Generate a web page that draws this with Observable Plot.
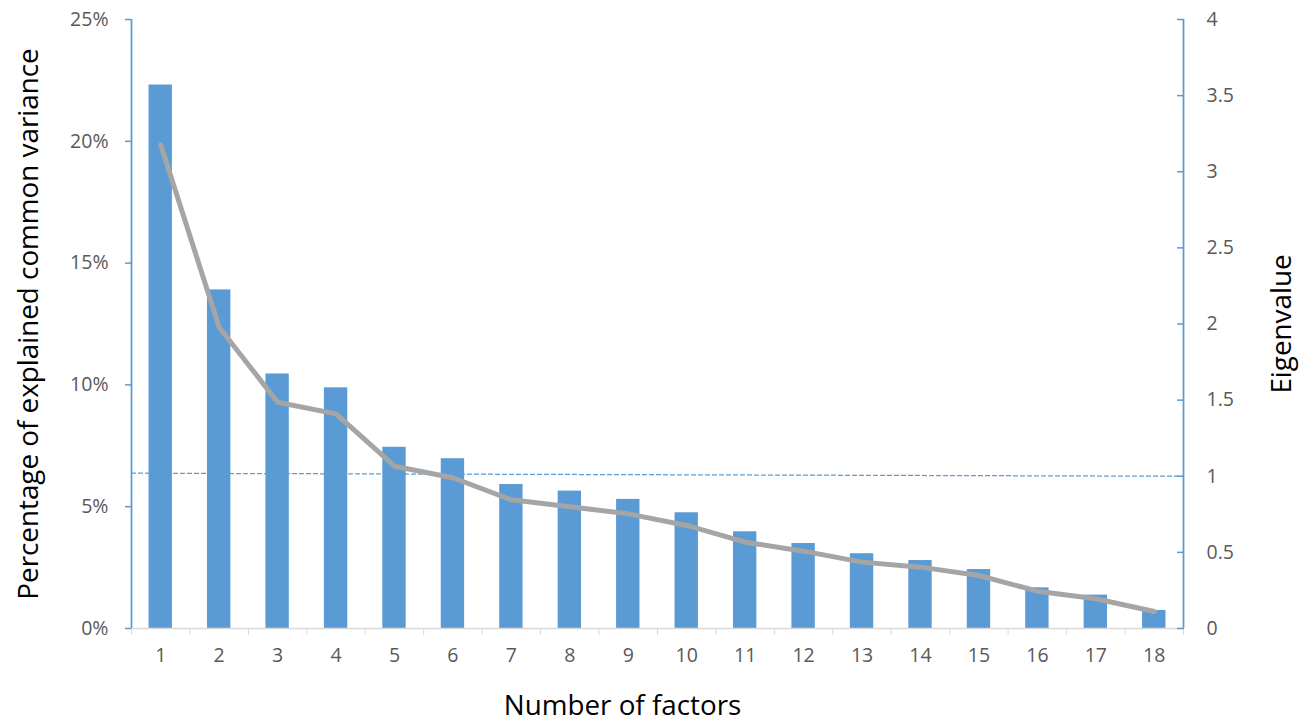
<!DOCTYPE html>
<html>
<head>
<meta charset="utf-8">
<script src="https://cdn.jsdelivr.net/npm/d3@7"></script>
<script src="https://cdn.jsdelivr.net/npm/@observablehq/plot@0.6"></script>
<style>
  html, body { margin: 0; padding: 0; background: #fff; }
  #chart { width: 1307px; height: 724px; }
</style>
</head>
<body>
<div id="chart"></div>
<script>
// ---- data ----
const factors = [1,2,3,4,5,6,7,8,9,10,11,12,13,14,15,16,17,18];
const variancePct = [22.31,13.90,10.45,9.88,7.44,6.97,5.91,5.64,5.30,4.75,3.97,3.49,3.07,2.79,2.42,1.67,1.37,0.74];
const eigenvalues = [3.177,1.979,1.486,1.41,1.066,0.99,0.845,0.80,0.753,0.677,0.567,0.508,0.436,0.403,0.348,0.245,0.195,0.112];
const pctTicks = [0,5,10,15,20,25];
const eigTicks = [0,0.5,1,1.5,2,2.5,3,3.5,4];
const thresholdF = [0.5, 18.5];
const thresholdE = [1.02, 1.0];
const xTitle = "Number of factors";
const yTitleLeft = "Percentage of explained common variance";
const yTitleRight = "Eigenvalue";

// eigenvalue axis (0–4) shares the frame with the percentage axis (0–25)
const eigToPct = 25 / 4;

const bars = factors.map((f, i) => ({f, pct: variancePct[i]}));
const eig = factors.map((f, i) => ({f, e: eigenvalues[i]}));
const thresh = thresholdF.map((f, i) => ({f, e: thresholdE[i]}));
const boundaries = d3.range(factors.length + 1).map(i => i + 0.5);

const font = "'Open Sans', Lato, sans-serif";
const blue = "#5b9bd5";

const chart = Plot.plot({
  width: 1307,
  height: 724,
  marginLeft: 131,
  marginRight: 124,
  marginTop: 19,
  marginBottom: 96,
  style: {fontFamily: font, background: "#fff", overflow: "visible"},
  x: {type: "linear", domain: [0.5, 18.5]},
  y: {domain: [0, 25]},
  marks: [
    // bars
    Plot.rectY(bars, {x1: d => d.f - 0.2, x2: d => d.f + 0.2, y1: 0, y2: "pct", fill: blue}),
    // x axis line and boundary ticks
    Plot.ruleY([0], {stroke: "#d9d9d9", strokeWidth: 1.5}),
    Plot.axisX(boundaries, {tickSize: 7, stroke: "#d9d9d9", tickFormat: () => "", label: null}),
    Plot.axisX(factors, {tickSize: 0, tickPadding: 20, fontSize: 19.5, fill: "#595959", label: null, tickFormat: d => String(d)}),
    // left axis
    Plot.ruleX([0.5], {y1: 0, y2: 25, stroke: blue, strokeWidth: 1.75}),
    Plot.axisY(pctTicks, {anchor: "left", tickSize: 6, tickPadding: 17, stroke: blue, strokeWidth: 1.5, fill: "#595959", fontSize: 19.5, tickFormat: d => d + "%", label: null}),
    // right axis
    Plot.ruleX([18.5], {y1: 0, y2: 25, stroke: blue, strokeWidth: 1.75}),
    Plot.axisY(eigTicks.map(v => v * eigToPct), {anchor: "right", tickSize: -7, tickPadding: 30, stroke: blue, strokeWidth: 1.5, fill: "#595959", fontSize: 19.5, tickFormat: v => String(+(v / eigToPct).toFixed(2)), label: null}),
    // threshold dashed line (eigenvalue = 1)
    Plot.line(thresh, {x: "f", y: d => d.e * eigToPct, stroke: blue, strokeWidth: 1.25, strokeDasharray: "4,3"}),
    // eigenvalue line
    Plot.line(eig, {x: "f", y: d => d.e * eigToPct, stroke: "#a5a5a5", strokeWidth: 5, strokeLinejoin: "round", strokeLinecap: "round"}),
    // titles
    Plot.text([yTitleLeft], {frameAnchor: "left", textAnchor: "middle", lineAnchor: "middle", dx: -102, rotate: -90, fontSize: 27.8, fill: "#000", fontFamily: font}),
    Plot.text([yTitleRight], {frameAnchor: "right", textAnchor: "middle", lineAnchor: "middle", dx: 99, rotate: -90, fontSize: 27.8, fill: "#000", fontFamily: font}),
    Plot.text([xTitle], {frameAnchor: "bottom", textAnchor: "middle", lineAnchor: "middle", dx: -35, dy: 78, fontSize: 27.8, fill: "#000", fontFamily: font})
  ]
});
document.getElementById("chart").appendChild(chart);
</script>
</body>
</html>
